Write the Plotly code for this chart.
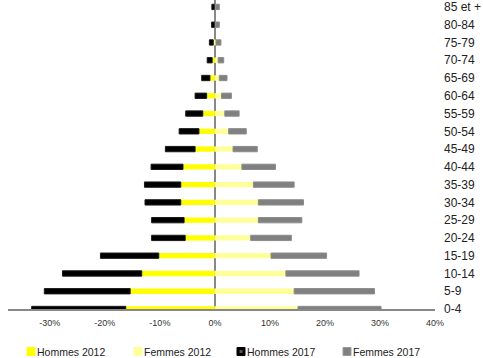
import plotly.graph_objects as go

categories = ["0-4", "5-9", "10-14", "15-19", "20-24", "25-29", "30-34", "35-39",
              "40-44", "45-49", "50-54", "55-59", "60-64", "65-69", "70-74",
              "75-79", "80-84", "85 et +"]
hommes_2012 = [16.2, 15.4, 13.3, 10.2, 5.4, 5.6, 6.2, 6.2, 5.8, 3.6, 2.9, 2.2, 1.5, 0.9, 0.5, 0.3, 0.1, 0.1]
hommes_2017 = [17.1, 15.6, 14.4, 10.6, 6.1, 5.9, 6.5, 6.6, 5.8, 5.4, 3.6, 3.1, 2.1, 1.5, 0.9, 0.7, 0.5, 0.45]
femmes_2012 = [15.1, 14.4, 12.9, 10.2, 6.5, 7.9, 7.9, 7.0, 4.9, 3.3, 2.5, 1.8, 1.2, 0.8, 0.6, 0.2, 0.1, 0.1]
femmes_2017 = [15.1, 14.6, 13.3, 10.1, 7.4, 7.9, 8.2, 7.4, 6.1, 4.4, 3.2, 2.6, 1.8, 1.4, 1.0, 0.9, 0.7, 0.7]
tick_vals = [-30, -20, -10, 0, 10, 20, 30, 40]
tick_text = ["-30%", "-20%", "-10%", "0%", "10%", "20%", "30%", "40%"]
series_names = ["Hommes 2012", "Femmes 2012", "Hommes 2017", "Femmes 2017"]

FONT = "Liberation Sans"
BW = 0.3
W, H = 483, 358
ML, MR, MT, MB = 8, 48, 0, 49
PW, PH = W - ML - MR, H - MT - MB

styles = [
    dict(color="#FFFF00", line=dict(width=0)),
    dict(color="#FFFF99", line=dict(width=0)),
    dict(color="#000000", line=dict(width=1, color="#1a1a1a")),
    dict(color="#808080", line=dict(width=1, color="#8c8c8c")),
]
values = [[-v for v in hommes_2012], femmes_2012, [-v for v in hommes_2017], femmes_2017]

fig = go.Figure()
for name, vals, st in zip(series_names, values, styles):
    fig.add_trace(go.Bar(name=name, y=categories, x=vals, orientation="h", width=BW,
                         marker=st, showlegend=False))

# manual legend (pixel positions converted to paper coords)
def px_x(p):
    return (p - ML) / PW

def px_y(p):
    return (H - MB - p) / PH

legend_items = [
    (27, "#FFFF00", "#FFFF00"),
    (134, "#FFFF99", "#FFFF99"),
    (237, "#000000", "#000000"),
    (343, "#808080", "#9a9a9a"),
]
LY = 351.5
shapes = []
annotations = []
for (sx, fill, border), name in zip(legend_items, series_names):
    shapes.append(dict(type="rect", xref="paper", yref="paper",
                       x0=px_x(sx), x1=px_x(sx + 8), y0=px_y(LY + 4), y1=px_y(LY - 4),
                       fillcolor=fill, line=dict(width=1, color=border)))
    if name == "Hommes 2017":
        shapes.append(dict(type="rect", xref="paper", yref="paper",
                           x0=px_x(sx + 2.5), x1=px_x(sx + 5.5), y0=px_y(LY + 1.5), y1=px_y(LY - 1.5),
                           fillcolor="#555555", line=dict(width=0)))
    annotations.append(dict(text=name, xref="paper", yref="paper", x=px_x(sx + 8.5),
                            y=px_y(LY), xanchor="left", yanchor="middle", showarrow=False,
                            font=dict(size=10.5, family=FONT, color="#222222"), borderpad=0))

fig.update_layout(
    barmode="relative",
    width=W, height=H,
    margin=dict(l=ML, r=MR, t=MT, b=MB),
    plot_bgcolor="white", paper_bgcolor="white",
    font=dict(family=FONT, color="#222222"),
    showlegend=False,
    shapes=shapes,
    annotations=annotations,
    xaxis=dict(range=[-37.6, 40], tickvals=tick_vals, ticktext=tick_text,
               tickfont=dict(size=9, family=FONT, color="#333333"),
               showgrid=False, zeroline=True, zerolinecolor="#888888", zerolinewidth=2,
               showline=True, linecolor="#888888", linewidth=2, ticks="",
               ticklabelstandoff=4),
    yaxis=dict(type="category", categoryorder="array", categoryarray=categories,
               range=[0, 17.39], side="right", showgrid=False, zeroline=False,
               tickfont=dict(size=12, family=FONT, color="#222222"), ticks="",
               ticklabelstandoff=8),
)
fig.write_html("out.html")
